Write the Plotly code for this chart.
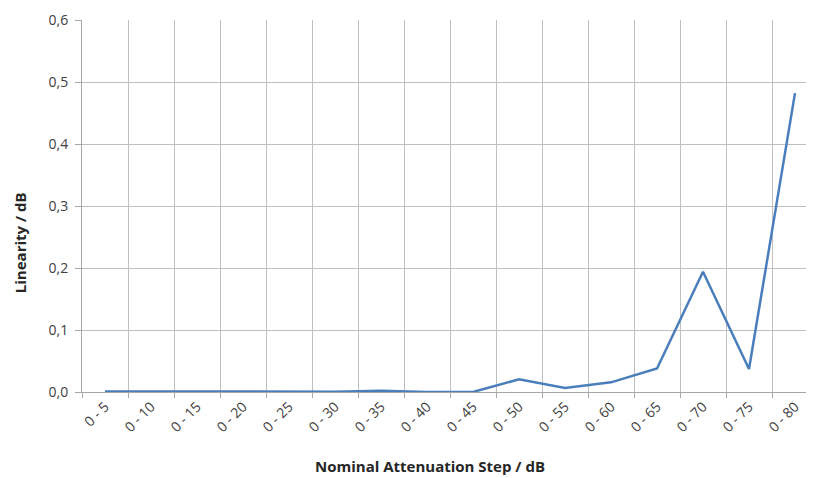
import plotly.graph_objects as go

categories = ["0 - 5", "0 - 10", "0 - 15", "0 - 20", "0 - 25", "0 - 30", "0 - 35", "0 - 40",
              "0 - 45", "0 - 50", "0 - 55", "0 - 60", "0 - 65", "0 - 70", "0 - 75", "0 - 80"]
linearity = [0.001, 0.001, 0.0, 0.0, 0.001, 0.0005, 0.002, 0.0,
             0.0, 0.0205, 0.0065, 0.0156, 0.038, 0.194, 0.037, 0.482]
y_ticks = [0.0, 0.1, 0.2, 0.3, 0.4, 0.5, 0.6]

fig = go.Figure()
fig.add_trace(go.Scatter(x=categories, y=linearity, mode="lines",
                         line=dict(color="#4a7ebb", width=2.5)))

font_family = "Open Sans, Lato, sans-serif"
fig.update_layout(
    width=840, height=478,
    margin=dict(l=74, r=30, t=12, b=94, autoexpand=False),
    paper_bgcolor="white", plot_bgcolor="white",
    separators=",.",
    showlegend=False,
    font=dict(family=font_family, color="#404040", size=14),
    annotations=[
        dict(text="<b>Nominal Attenuation Step / dB</b>", xref="paper", yref="paper",
             x=(422 - 74) / 736, y=0, yshift=-74, showarrow=False, xanchor="center", yanchor="middle",
             font=dict(size=15, color="#262626")),
        dict(text="<b>Linearity / dB</b>", xref="paper", yref="paper",
             x=0, xshift=-62, y=0.40, showarrow=False, textangle=-90,
             xanchor="center", yanchor="middle",
             font=dict(size=15, color="#262626")),
    ],
)
fig.update_xaxes(
    type="category", tickson="boundaries", automargin=False,
    showgrid=True, gridcolor="#bfbfbf", gridwidth=1,
    showline=True, linecolor="#a6a6a6", linewidth=1,
    ticks="outside", ticklen=5, tickcolor="#a6a6a6",
    tickangle=-45, tickfont=dict(size=14, color="#404040"),
    range=[-0.5, 15.5],
)
fig.update_yaxes(
    range=[0, 0.6], tickvals=y_ticks, tickformat=".1f", automargin=False,
    showgrid=True, gridcolor="#bfbfbf", gridwidth=1,
    showline=True, linecolor="#a6a6a6", linewidth=1,
    ticks="outside", ticklen=6, tickcolor="#a6a6a6",
    tickfont=dict(size=14, color="#404040"), ticklabelstandoff=4,
    zeroline=False,
)
fig.write_html("out.html", post_script="document.body.style.overflow='hidden';")
